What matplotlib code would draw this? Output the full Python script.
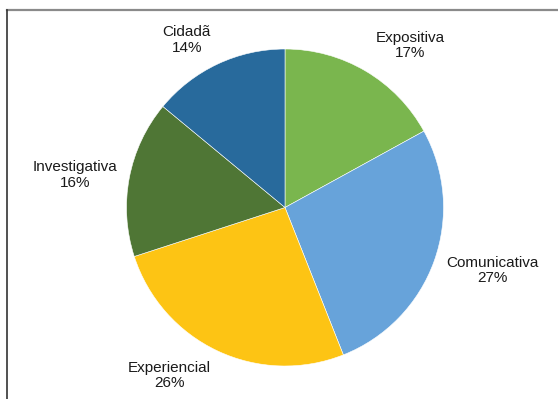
import matplotlib.pyplot as plt
from matplotlib.lines import Line2D

# Slice data (clockwise from 12 o'clock)
categories = ["Expositiva", "Comunicativa", "Experiencial", "Investigativa", "Cidadã"]
shares = [17, 27, 26, 16, 14]
colors = ["#7AB64E", "#67A3DA", "#FDC414", "#4F7635", "#286A9C"]

# label positions (pie radius units)
label_pos = [(0.79, 1.02), (1.31, -0.40), (-0.73, -1.06), (-1.325, 0.205), (-0.62, 1.057)]

W, H = 558, 399
cx, cy, r = 285, 191.5, 158.5

fig = plt.figure(figsize=(W / 100, H / 100), dpi=100)
ax = fig.add_axes([0, 0, 1, 1])
ax.pie(shares, colors=colors, startangle=90, counterclock=False,
       wedgeprops=dict(edgecolor="white", linewidth=0.4))
ax.set_xlim(-cx / r, (W - cx) / r)
ax.set_ylim(-cy / r, (H - cy) / r)
ax.set_aspect("auto")
ax.axis("off")

for name, val, (x, y) in zip(categories, shares, label_pos):
    ax.text(x, y, f"{name}\n{val}%", ha="center", va="center",
            fontsize=11, family="Liberation Sans", color="#1a1a1a",
            linespacing=1.1)

# outer frame
fig.add_artist(Line2D([7 / W, 1], [1 - 10 / H, 1 - 10 / H], color="#8a8a8a", lw=1.6))
fig.add_artist(Line2D([7 / W, 7 / W], [0, 1 - 10 / H], color="#333333", lw=1.2))

fig.savefig("out.png", dpi=100)
